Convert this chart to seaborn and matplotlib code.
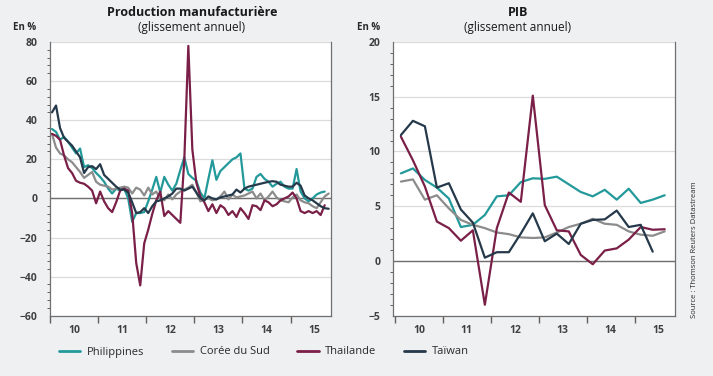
import numpy as np
import pandas as pd
import matplotlib.pyplot as plt
import matplotlib.ticker as mticker
from matplotlib.lines import Line2D
import seaborn as sns

# Monthly manufacturing output, y/y %, from Jan 2010
philippines_prod = [35.5, 34, 30, 31.5, 29, 26, 23, 25.5, 16, 17, 15.5, 13, 11, 8.5, 5, 2.5,
                    5, 4, 5, 0, -12, -7.5, -7.5, -7, -1.5, 4.5, 11, 3, 11, 7, 4, 7.5, 14.5, 21,
                    12.5, 10.5, 9, 3, 0, 10, 19.5, 9.5, 14, 16, 18, 20, 21, 23, 5, 4, 5, 11,
                    12.5, 10, 8.5, 6, 7.5, 8.5, 6, 5, 5, 15, 3.5, 0, -1.5, 0, 2, 3, 3.5]
coree_prod = [33, 26, 23, 22, 20, 18.5, 16, 13.5, 10.5, 12, 13.5, 8.5, 7, 6.5, 6, 4.5, 5,
              5.5, 6, 5.5, 2.5, 5.5, 4.5, 1.5, 5.5, 2, 3.5, 0, -1, 2, -0.5, 2, 3.5, 4.5, 5.5,
              7, 3, -1.5, -0.5, 0, -1, -0.5, 1, 3.5, -0.5, 2, 0.5, 1, 1.5, 2.5, 3.5, 0, 2.5,
              -1, 1, 3.5, 0.5, -1, -1.5, -2, 0.5, 2, -1, -2, -2.5, -4, -5, -2, 1, 2.5]
thailande_prod = [33, 32, 30, 22, 15.5, 13, 9, 8, 7.5, 6, 4, -2.5, 3.5, -1.5, -5, -7, -2, 4,
                  5, 4, -7.5, -33, -44.5, -23, -16, -8, -1, 3.5, -9, -6.5, -8.5, -10.5, -12.5,
                  20, 78, 25, 8, 1, -2, -6.5, -3, -7.5, -3.5, -5, -8.5, -6.5, -9.5, -5, -7.5,
                  -10.5, -3.5, -4, -6, -1, -2, -4, -3, -1, 0, 1, 3, 0, -6.5, -7.5, -6.5, -7.5,
                  -6.5, -8.5, -3.5]
taiwan_prod = [44, 47.5, 36, 31, 29, 27, 24, 21, 13, 16, 16.5, 15, 17.5, 12, 10, 8, 6, 4.5,
               4.5, 3, -2, -7.5, -7, -5, -7.5, -4, -1.5, -1, 0, 1, 2.5, 5, 5, 4, 5, 6, 3, 0,
               -1, 1, 0, -0.5, 0.5, 1, 1.5, 2, 4.5, 3, 5, 6, 6.5, 7, 7.5, 8, 8.5, 8.8, 8.5, 7,
               6.5, 6, 6, 8, 6.5, 1.5, 0, -1, -2.5, -4, -5, -5.3]

# Quarterly GDP, y/y %, from Q1 2010
philippines_pib = [8.0, 8.45, 7.4, 6.7, 5.7, 3.1, 3.3, 4.2, 5.9, 6.0, 7.2, 7.55, 7.5, 7.7,
                   7.0, 6.3, 5.9, 6.5, 5.6, 6.6, 5.3, 5.6, 6.0]
coree_pib = [7.25, 7.45, 5.6, 6.0, 4.8, 3.75, 3.3, 3.0, 2.6, 2.45, 2.15, 2.1, 2.15, 2.6, 3.1,
             3.4, 3.85, 3.4, 3.3, 2.7, 2.4, 2.3, 2.7]
thailande_pib = [11.35, 9.2, 6.8, 3.6, 3.0, 1.85, 2.8, -4.0, 3.0, 6.25, 5.4, 15.1, 5.1, 2.8,
                 2.7, 0.55, -0.3, 0.95, 1.15, 1.95, 3.1, 2.85, 2.9]
taiwan_pib = [11.5, 12.8, 12.3, 6.7, 7.1, 4.7, 3.5, 0.3, 0.8, 0.8, 2.5, 4.35, 1.8, 2.5, 1.55,
              3.4, 3.75, 3.8, 4.6, 3.1, 3.3, 0.85]

pays = ['Philippines', 'Corée du Sud', 'Thailande', 'Taïwan']
couleurs = {'Philippines': '#23999a', 'Corée du Sud': '#8c8c8c',
            'Thailande': '#7a1f47', 'Taïwan': '#25394a'}
annees = ['10', '11', '12', '13', '14', '15']


def to_long(series, per_year):
    rows = []
    for name, vals in zip(pays, series):
        for i, v in enumerate(vals):
            rows.append({'date': 2010 + (i + 0.5) / per_year, 'valeur': v, 'pays': name})
    return pd.DataFrame(rows)


prod = to_long([philippines_prod, coree_prod, thailande_prod, taiwan_prod], 12)
pib = to_long([philippines_pib, coree_pib, thailande_pib, taiwan_pib], 4)

sns.set_theme(style='white')
plt.rcParams['font.family'] = ['Open Sans', 'DejaVu Sans']

bg = '#eef0f2'
fig = plt.figure(figsize=(7.13, 3.76), dpi=100, facecolor=bg)
ax1 = fig.add_axes([50 / 713, 1 - 315.7 / 376, 281 / 713, 273.7 / 376])
ax2 = fig.add_axes([393 / 713, 1 - 315.7 / 376, 282 / 713, 273.7 / 376])

tick_col = '#404040'
for ax, df, ylim, step, minor, x0 in [(ax1, prod, (-60, 80), 20, 4, 2010.0),
                                      (ax2, pib, (-5, 20), 5, 1, 2009.96)]:
    sns.lineplot(data=df, x='date', y='valeur', hue='pays', palette=couleurs,
                 hue_order=pays, linewidth=1.6, legend=False, ax=ax)
    ax.set_facecolor('white')
    ax.set_xlim(x0, 2015.84)
    ax.set_ylim(*ylim)
    ax.yaxis.set_major_locator(mticker.MultipleLocator(step))
    ax.yaxis.set_minor_locator(mticker.MultipleLocator(minor))
    ax.grid(axis='y', which='major', color='#dcdcdc', linewidth=0.9)
    ax.axhline(0, color='#707070', linewidth=1.0, zorder=1)
    ax.set_xticks(range(2010, 2016))
    ax.set_xticks([y + 0.5 for y in range(2010, 2016)], minor=True)
    ax.set_xticklabels([])
    ax.set_xticklabels(annees, minor=True)
    ax.tick_params(axis='x', which='major', direction='out', length=5, width=1,
                   color='#606060', bottom=True)
    ax.tick_params(axis='x', which='minor', length=0, pad=7, labelsize=7.5,
                   labelcolor=tick_col)
    ax.tick_params(axis='y', which='major', direction='in', length=0, labelsize=7.5,
                   labelcolor=tick_col, left=True, pad=9)
    ax.tick_params(axis='y', which='minor', direction='out', length=2.5, width=0.7,
                   color='#606060', left=True)
    for lab in ax.get_xticklabels(minor=True) + ax.get_yticklabels():
        lab.set_fontweight('bold')
    ax.set_xlabel('')
    ax.set_ylabel('')
    ax.spines['top'].set_visible(False)
    for s in ['left', 'bottom', 'right']:
        ax.spines[s].set_color('#707070')
        ax.spines[s].set_linewidth(0.9)

fig.text(192 / 713, 1 - 13 / 376, 'Production manufacturière', ha='center', va='center',
         fontsize=9, fontweight='bold', color='#1a1a1a')
fig.text(192 / 713, 1 - 28 / 376, '(glissement annuel)', ha='center', va='center',
         fontsize=8.5, color='#1a1a1a')
fig.text(518 / 713, 1 - 13 / 376, 'PIB', ha='center', va='center',
         fontsize=9, fontweight='bold', color='#1a1a1a')
fig.text(518 / 713, 1 - 28 / 376, '(glissement annuel)', ha='center', va='center',
         fontsize=8.5, color='#1a1a1a')
fig.text(13 / 713, 1 - 27 / 376, 'En %', ha='left', va='center', fontsize=7,
         fontweight='bold', color='#2a2a2a')
fig.text(357 / 713, 1 - 27 / 376, 'En %', ha='left', va='center', fontsize=7,
         fontweight='bold', color='#2a2a2a')
fig.text(694 / 713, 1 - 250 / 376, 'Source : Thomson Reuters Datastream', rotation=90,
         ha='center', va='center', fontsize=5.5, color='#2a2a2a')

handles = [Line2D([0], [0], color=couleurs[p], linewidth=2) for p in pays]
leg = fig.legend(handles, pays, loc='center', ncol=4, frameon=False,
                 bbox_to_anchor=(264 / 713, 1 - 352 / 376), fontsize=8,
                 handlelength=1.9, handletextpad=0.6, columnspacing=2.5)
for t in leg.get_texts():
    t.set_color('#2a2a2a')

fig.savefig('out.png', dpi=100, facecolor=bg)
